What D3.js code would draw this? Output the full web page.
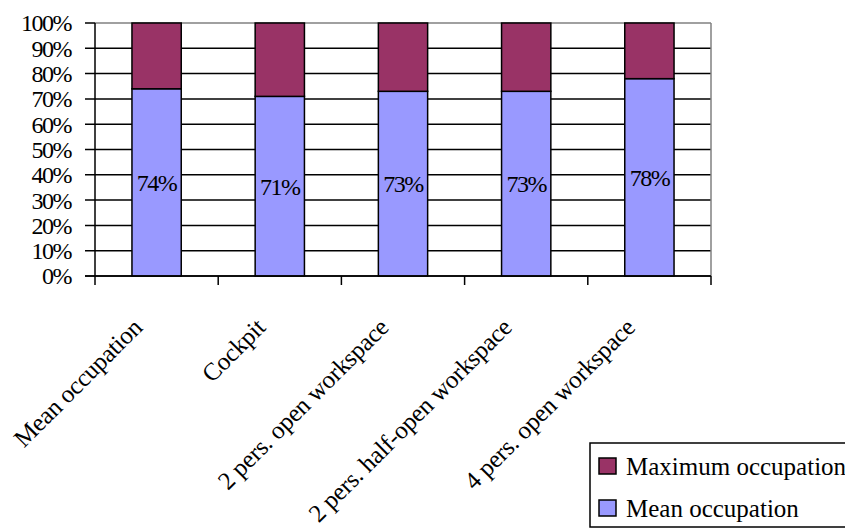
<!DOCTYPE html>
<html lang="en">
<head>
<meta charset="UTF-8">
<title>Occupation by workspace</title>
<script src="https://d3js.org/d3.v7.min.js"></script>
</head>
<body style="margin:0; background:#fff">
<svg width="845" height="528"></svg>
<script>
    // data
    const categories = ["Mean occupation", "Cockpit", "2 pers. open workspace",
        "2 pers. half-open workspace", "4 pers. open workspace"];
    const meanOcc = [74, 71, 73, 73, 78];
    const maxOcc = meanOcc.map(v => 100 - v); // stacked to 100%
    const yTicks = [0, 10, 20, 30, 40, 50, 60, 70, 80, 90, 100];
    const seriesNames = ["Maximum occupation", "Mean occupation"];
    const seriesColors = ["#993366", "#9999ff"];

    const FONT = "'Liberation Serif'";
    const svg = d3.select("svg").style("display", "block");
    const plotL = 95, plotR = 711, plotT = 23, plotB = 276;

    const x = d3.scaleBand().domain(categories).range([plotL, plotR]).paddingInner(0).paddingOuter(0);
    const y = d3.scaleLinear().domain([0, 100]).range([plotB, plotT]);
    const barW = x.bandwidth() * 0.4;

    // gridlines (with little ticks to the left of the axis)
    svg.append("g").selectAll("line")
        .data(yTicks.filter(d => d < 100))
        .join("line")
        .attr("x1", plotL - 10).attr("x2", plotR)
        .attr("y1", d => y(d)).attr("y2", d => y(d))
        .attr("stroke", "#000").attr("stroke-width", 1.5);

    // plot border top/right in gray
    svg.append("line").attr("x1", plotL).attr("x2", plotR).attr("y1", plotT).attr("y2", plotT)
        .attr("stroke", "#808080").attr("stroke-width", 1.5);
    svg.append("line").attr("x1", plotL - 10).attr("x2", plotL).attr("y1", plotT).attr("y2", plotT)
        .attr("stroke", "#000").attr("stroke-width", 1.5);
    svg.append("line").attr("x1", plotR).attr("x2", plotR).attr("y1", plotT).attr("y2", plotB)
        .attr("stroke", "#808080").attr("stroke-width", 1.5);

    // y labels
    svg.append("g").selectAll("text")
        .data(yTicks)
        .join("text")
        .attr("x", 71).attr("y", d => y(d))
        .attr("dy", "0.35em")
        .attr("text-anchor", "end")
        .style("font-family", FONT)
        .style("font-size", "24px")
        .style("letter-spacing", "-1.5px")
        .text(d => d + "%");

    // bars
    const bars = svg.append("g");
    categories.forEach((c, i) => {
        const bx = x(c) + (x.bandwidth() - barW) / 2;
        bars.append("rect")
            .attr("x", bx).attr("width", barW)
            .attr("y", y(meanOcc[i])).attr("height", y(0) - y(meanOcc[i]))
            .attr("fill", seriesColors[1]).attr("stroke", "#000").attr("stroke-width", 1.5);
        bars.append("rect")
            .attr("x", bx).attr("width", barW)
            .attr("y", y(meanOcc[i] + maxOcc[i])).attr("height", y(meanOcc[i]) - y(meanOcc[i] + maxOcc[i]))
            .attr("fill", seriesColors[0]).attr("stroke", "#000").attr("stroke-width", 1.5);
        bars.append("text")
            .attr("x", x(c) + x.bandwidth() / 2)
            .attr("y", (y(0) + y(meanOcc[i])) / 2)
            .attr("dy", "0.35em")
            .attr("text-anchor", "middle")
            .style("font-family", FONT)
            .style("font-size", "24px")
            .style("letter-spacing", "-1.5px")
            .text(meanOcc[i] + "%");
    });

    // axes lines
    svg.append("line").attr("x1", plotL).attr("x2", plotL).attr("y1", plotT).attr("y2", plotB + 9)
        .attr("stroke", "#000").attr("stroke-width", 1.5);
    svg.append("line").attr("x1", plotL - 10).attr("x2", plotR).attr("y1", plotB).attr("y2", plotB)
        .attr("stroke", "#000").attr("stroke-width", 1.5);
    svg.append("g").selectAll("line")
        .data(categories.slice(1).map(c => x(c)).concat([plotR]))
        .join("line")
        .attr("x1", d => d).attr("x2", d => d)
        .attr("y1", plotB).attr("y2", plotB + 9)
        .attr("stroke", "#000").attr("stroke-width", 1.5);

    // category labels, rotated
    svg.append("g").selectAll("text")
        .data(categories)
        .join("text")
        .attr("transform", d => `translate(${x(d) + x.bandwidth() / 2 - 13},329) rotate(-45)`)
        .attr("text-anchor", "end")
        .style("font-family", FONT)
        .style("font-size", "25px")
        .style("letter-spacing", "-0.25px")
        .text(d => d);

    // legend
    const lg = svg.append("g");
    lg.append("rect").attr("x", 590).attr("y", 443).attr("width", 280).attr("height", 84)
        .attr("fill", "#fff").attr("stroke", "#000").attr("stroke-width", 1.5);
    seriesNames.forEach((s, i) => {
        lg.append("rect").attr("x", 599).attr("y", 458 + i * 42).attr("width", 17).attr("height", 16)
            .attr("fill", seriesColors[i]).attr("stroke", "#000").attr("stroke-width", 1.5);
        lg.append("text").attr("x", 626).attr("y", 475 + i * 42)
            .style("font-family", FONT)
            .style("font-size", "25px")
            .text(s);
    });
</script>
</body>
</html>
